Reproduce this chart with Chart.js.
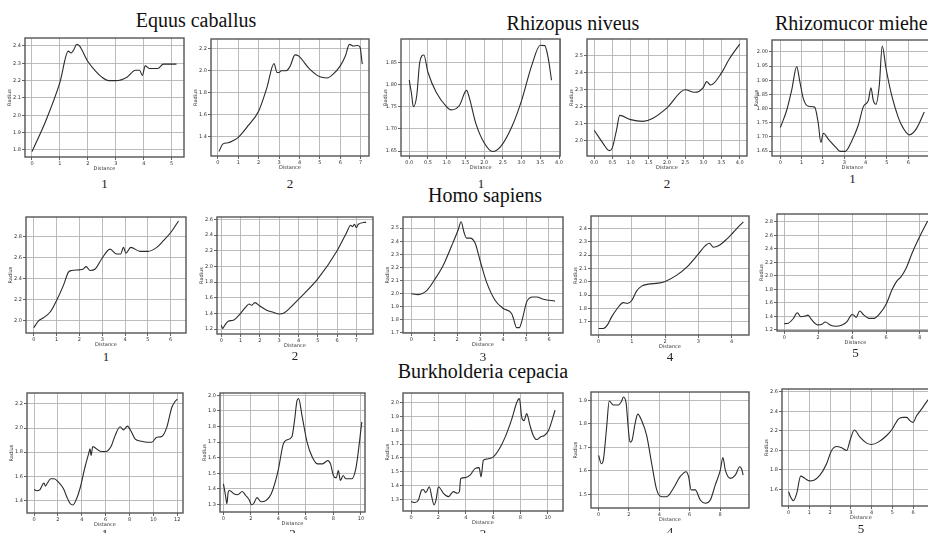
<!DOCTYPE html>
<html>
<head>
<meta charset="utf-8">
<script src="https://cdn.jsdelivr.net/npm/chart.js@4/dist/chart.umd.min.js"></script>
<style>
  body { margin: 0; background: #fff; }
  #wrap { position: relative; width: 928px; height: 533px; overflow: hidden; background: #fff; }
  canvas { position: absolute; }
  .ttl { position: absolute; font-family: "Liberation Serif", serif; font-size: 20px; line-height: 20px; white-space: nowrap; color: #111; }
  .num { position: absolute; font-family: "Liberation Serif", serif; font-size: 13px; line-height: 13px; width: 40px; text-align: center; color: #222; }
</style>
</head>
<body>
<div id="wrap"></div>
<script>
// Equus caballus
const eq1X = [0, 0.5, 1.0, 1.3, 1.4, 1.5, 1.6, 1.7, 2.0, 2.3, 2.5, 2.75, 3.0, 3.4, 3.7, 3.85, 3.95, 4.05, 4.2, 4.5, 4.7, 5.0, 5.17];
const eq1Y = [1.79, 1.97, 2.19, 2.37, 2.36, 2.38, 2.41, 2.40, 2.31, 2.25, 2.22, 2.20, 2.20, 2.22, 2.26, 2.26, 2.23, 2.285, 2.27, 2.27, 2.295, 2.295, 2.295];
const eq1XTicks = ['0', '1', '2', '3', '4', '5'];
const eq1YTicks = ['1.8', '1.9', '2.0', '2.1', '2.2', '2.3', '2.4'];

const eq2X = [0.05, 0.25, 0.5, 0.75, 1.0, 1.5, 2.0, 2.4, 2.75, 2.9, 3.0, 3.1, 3.35, 3.55, 3.78, 3.95, 4.5, 5.0, 5.35, 5.65, 6.0, 6.25, 6.45, 6.65, 6.85, 6.97, 7.08];
const eq2Y = [1.26, 1.33, 1.34, 1.36, 1.39, 1.50, 1.63, 1.84, 2.06, 1.98, 1.98, 1.995, 1.995, 2.04, 2.14, 2.13, 2.01, 1.94, 1.93, 1.965, 2.04, 2.13, 2.235, 2.22, 2.225, 2.21, 2.055];
const eq2XTicks = ['0', '1', '2', '3', '4', '5', '6', '7'];
const eq2YTicks = ['1.4', '1.6', '1.8', '2.0', '2.2'];

// Rhizopus niveus
const rz1X = [0, 0.06, 0.11, 0.2, 0.28, 0.39, 0.5, 0.72, 1.0, 1.12, 1.34, 1.53, 1.6, 1.78, 2.0, 2.23, 2.44, 2.74, 3.0, 3.27, 3.5, 3.62, 3.71, 3.8];
const rz1Y = [1.81, 1.78, 1.75, 1.775, 1.85, 1.867, 1.828, 1.783, 1.75, 1.743, 1.753, 1.787, 1.772, 1.712, 1.669, 1.649, 1.66, 1.705, 1.764, 1.843, 1.889, 1.888, 1.861, 1.81];
const rz1XTicks = ['0.0', '0.5', '1.0', '1.5', '2.0', '2.5', '3.0', '3.5', '4.0'];
const rz1YTicks = ['1.65', '1.70', '1.75', '1.80', '1.85'];

const rz2X = [0, 0.25, 0.41, 0.49, 0.61, 0.7, 1.0, 1.34, 1.6, 2.0, 2.5, 2.75, 2.88, 3.0, 3.09, 3.2, 3.5, 3.7, 4.0];
const rz2Y = [2.06, 1.98, 1.94, 1.953, 2.06, 2.148, 2.123, 2.113, 2.13, 2.193, 2.30, 2.285, 2.29, 2.314, 2.348, 2.328, 2.40, 2.477, 2.57];
const rz2XTicks = ['0.0', '0.5', '1.0', '1.5', '2.0', '2.5', '3.0', '3.5', '4.0'];
const rz2YTicks = ['2.0', '2.1', '2.2', '2.3', '2.4', '2.5'];

// Rhizomucor miehei
const rm1X = [0, 0.3, 0.53, 0.77, 0.92, 1.08, 1.31, 1.61, 1.78, 1.9, 2.02, 2.25, 2.64, 2.8, 3.05, 3.34, 3.66, 3.89, 4.13, 4.25, 4.36, 4.48, 4.64, 4.78, 4.95, 5.22, 5.53, 5.77, 6.05, 6.39, 6.75];
const rm1Y = [1.733, 1.794, 1.864, 1.948, 1.893, 1.835, 1.808, 1.805, 1.748, 1.68, 1.713, 1.692, 1.66, 1.649, 1.649, 1.684, 1.742, 1.806, 1.829, 1.873, 1.829, 1.815, 1.881, 2.021, 1.945, 1.847, 1.769, 1.73, 1.707, 1.73, 1.788];
const rm1XTicks = ['0', '1', '2', '3', '4', '5', '6'];
const rm1YTicks = ['1.65', '1.70', '1.75', '1.80', '1.85', '1.90', '1.95', '2.00'];

// Homo sapiens
const hs1X = [0, 0.2, 0.42, 0.72, 1.0, 1.3, 1.52, 1.66, 2.0, 2.17, 2.29, 2.47, 2.69, 3.0, 3.34, 3.63, 3.81, 3.93, 4.04, 4.25, 4.66, 5.0, 5.39, 5.68, 6.0, 6.34];
const hs1Y = [1.93, 1.994, 2.025, 2.08, 2.19, 2.334, 2.46, 2.476, 2.482, 2.49, 2.513, 2.476, 2.49, 2.595, 2.68, 2.633, 2.633, 2.696, 2.64, 2.696, 2.658, 2.658, 2.696, 2.76, 2.838, 2.948];
const hs1XTicks = ['0', '1', '2', '3', '4', '5', '6'];
const hs1YTicks = ['2.0', '2.2', '2.4', '2.6', '2.8'];

const hs2X = [0, 0.07, 0.19, 0.36, 0.62, 1.0, 1.31, 1.45, 1.57, 1.74, 2.0, 2.35, 2.69, 3.0, 3.25, 3.56, 4.0, 5.0, 6.0, 6.49, 6.7, 6.8, 6.9, 7.0, 7.1, 7.5];
const hs2Y = [1.25, 1.208, 1.25, 1.30, 1.313, 1.40, 1.494, 1.52, 1.503, 1.537, 1.494, 1.44, 1.414, 1.393, 1.406, 1.47, 1.58, 1.84, 2.20, 2.43, 2.524, 2.507, 2.537, 2.495, 2.537, 2.565];
const hs2XTicks = ['0', '1', '2', '3', '4', '5', '6', '7'];
const hs2YTicks = ['1.2', '1.4', '1.6', '1.8', '2.0', '2.2', '2.4', '2.6'];

const hs3X = [0, 0.3, 0.67, 1.0, 1.4, 1.76, 2.05, 2.17, 2.3, 2.41, 2.56, 2.78, 3.0, 3.28, 3.65, 4.01, 4.37, 4.45, 4.59, 4.71, 4.81, 5.03, 5.29, 5.47, 5.76, 6.26];
const hs3Y = [1.997, 1.99, 2.02, 2.10, 2.218, 2.365, 2.49, 2.55, 2.467, 2.424, 2.424, 2.386, 2.25, 2.086, 1.947, 1.883, 1.845, 1.807, 1.736, 1.736, 1.782, 1.934, 1.972, 1.972, 1.954, 1.94];
const hs3XTicks = ['0', '1', '2', '3', '4', '5', '6'];
const hs3YTicks = ['1.7', '1.8', '1.9', '2.0', '2.1', '2.2', '2.3', '2.4', '2.5'];

const hs4X = [0, 0.14, 0.26, 0.39, 0.56, 0.74, 0.86, 1.0, 1.14, 1.29, 1.5, 1.8, 2.0, 2.35, 2.65, 3.0, 3.2, 3.33, 3.45, 3.6, 3.85, 4.0, 4.15, 4.35];
const hs4Y = [1.65, 1.65, 1.675, 1.737, 1.80, 1.844, 1.837, 1.862, 1.93, 1.968, 1.983, 1.99, 2.003, 2.05, 2.11, 2.21, 2.27, 2.29, 2.26, 2.27, 2.32, 2.358, 2.40, 2.45];
const hs4XTicks = ['0', '1', '2', '3', '4'];
const hs4YTicks = ['1.7', '1.8', '1.9', '2.0', '2.1', '2.2', '2.3', '2.4'];

const hs5X = [0, 0.24, 0.53, 0.77, 0.97, 1.23, 1.39, 1.62, 1.98, 2.22, 2.42, 2.71, 3.01, 3.41, 3.7, 4.0, 4.1, 4.24, 4.44, 4.7, 5.0, 5.29, 5.64, 6.02, 6.38, 6.67, 6.87, 7.17, 7.56, 8.06, 8.46];
const hs5Y = [1.294, 1.30, 1.37, 1.455, 1.397, 1.406, 1.42, 1.348, 1.275, 1.284, 1.318, 1.275, 1.255, 1.274, 1.323, 1.43, 1.42, 1.387, 1.48, 1.42, 1.372, 1.372, 1.445, 1.59, 1.812, 1.934, 1.983, 2.106, 2.35, 2.62, 2.815];
const hs5XTicks = ['0', '2', '4', '6', '8'];
const hs5YTicks = ['1.2', '1.4', '1.6', '1.8', '2.0', '2.2', '2.4', '2.6', '2.8'];

// Burkholderia cepacia
const bc1X = [0, 0.22, 0.5, 0.73, 0.84, 0.95, 1.12, 1.4, 1.68, 2.04, 2.46, 2.74, 3.02, 3.24, 3.52, 3.85, 4.27, 4.58, 4.69, 4.78, 4.92, 5.11, 5.53, 6.0, 6.45, 6.79, 7.21, 7.49, 7.82, 8.13, 8.46, 9.02, 9.44, 9.86, 10.28, 10.7, 11.12, 11.54, 11.82, 12.01];
const bc1Y = [1.49, 1.48, 1.49, 1.534, 1.545, 1.518, 1.545, 1.58, 1.58, 1.553, 1.499, 1.43, 1.375, 1.362, 1.403, 1.499, 1.677, 1.79, 1.827, 1.773, 1.847, 1.836, 1.808, 1.805, 1.847, 1.937, 2.011, 1.984, 2.016, 1.973, 1.91, 1.89, 1.882, 1.882, 1.923, 1.93, 2.005, 2.17, 2.22, 2.24];
const bc1XTicks = ['0', '2', '4', '6', '8', '10', '12'];
const bc1YTicks = ['1.4', '1.6', '1.8', '2.0', '2.2'];

const bc2X = [0, 0.15, 0.25, 0.35, 0.45, 0.75, 1.04, 1.37, 1.62, 1.87, 2.04, 2.19, 2.44, 2.74, 3.11, 3.48, 3.98, 4.35, 4.6, 4.98, 5.17, 5.35, 5.47, 5.72, 6.09, 6.47, 6.84, 7.21, 7.59, 7.79, 8.0, 8.21, 8.36, 8.51, 8.71, 8.91, 9.33, 9.65, 10.07];
const bc2Y = [1.432, 1.357, 1.304, 1.379, 1.389, 1.368, 1.362, 1.383, 1.357, 1.33, 1.298, 1.304, 1.343, 1.317, 1.326, 1.368, 1.517, 1.687, 1.713, 1.734, 1.836, 1.964, 1.979, 1.868, 1.698, 1.602, 1.56, 1.56, 1.581, 1.56, 1.485, 1.47, 1.517, 1.453, 1.485, 1.464, 1.464, 1.538, 1.83];
const bc2XTicks = ['0', '2', '4', '6', '8', '10'];
const bc2YTicks = ['1.3', '1.4', '1.5', '1.6', '1.7', '1.8', '1.9', '2.0'];

const bc3X = [0, 0.29, 0.54, 0.78, 0.9, 1.07, 1.34, 1.51, 1.68, 1.83, 2.0, 2.37, 2.73, 3.1, 3.39, 3.54, 3.63, 4.0, 4.32, 4.68, 4.98, 5.12, 5.29, 5.54, 6.0, 6.39, 6.88, 7.37, 7.73, 7.93, 8.1, 8.27, 8.46, 8.71, 8.95, 9.2, 9.49, 9.73, 10.05, 10.54];
const bc3Y = [1.284, 1.277, 1.296, 1.368, 1.372, 1.348, 1.391, 1.32, 1.26, 1.296, 1.391, 1.344, 1.32, 1.356, 1.344, 1.356, 1.451, 1.458, 1.475, 1.523, 1.53, 1.463, 1.582, 1.592, 1.606, 1.654, 1.749, 1.881, 2.0, 2.029, 1.893, 1.869, 1.921, 1.833, 1.761, 1.733, 1.754, 1.761, 1.797, 1.945];
const bc3XTicks = ['0', '2', '4', '6', '8', '10'];
const bc3YTicks = ['1.3', '1.4', '1.5', '1.6', '1.7', '1.8', '1.9', '2.0'];

const bc4X = [0, 0.18, 0.31, 0.53, 0.7, 0.97, 1.3, 1.52, 1.63, 1.81, 1.96, 2.07, 2.2, 2.4, 2.58, 2.84, 3.17, 3.5, 3.83, 4.16, 4.49, 4.93, 5.37, 5.77, 5.93, 6.1, 6.37, 6.7, 7.03, 7.36, 7.69, 8.02, 8.19, 8.35, 8.68, 9.01, 9.3, 9.45, 9.52];
const bc4Y = [1.666, 1.63, 1.645, 1.785, 1.897, 1.88, 1.88, 1.897, 1.914, 1.89, 1.778, 1.722, 1.729, 1.799, 1.841, 1.813, 1.75, 1.63, 1.519, 1.49, 1.49, 1.526, 1.575, 1.596, 1.575, 1.519, 1.519, 1.476, 1.462, 1.476, 1.54, 1.603, 1.656, 1.603, 1.568, 1.582, 1.617, 1.603, 1.582];
const bc4XTicks = ['0', '2', '4', '6', '8'];
const bc4YTicks = ['1.5', '1.6', '1.7', '1.8', '1.9'];

const bc5X = [0, 0.1, 0.23, 0.39, 0.58, 0.79, 1.0, 1.22, 1.51, 1.83, 2.07, 2.32, 2.56, 2.8, 2.96, 3.17, 3.44, 3.76, 4.0, 4.32, 4.73, 5.0, 5.29, 5.53, 5.69, 5.85, 6.0, 6.17, 6.41, 6.66, 6.9];
const bc5Y = [1.576, 1.519, 1.485, 1.559, 1.736, 1.712, 1.688, 1.695, 1.746, 1.864, 2.0, 2.041, 2.027, 2.0, 2.102, 2.21, 2.136, 2.075, 2.061, 2.085, 2.153, 2.22, 2.322, 2.339, 2.339, 2.305, 2.288, 2.356, 2.424, 2.5, 2.56];
const bc5XTicks = ['0', '1', '2', '3', '4', '5', '6'];
const bc5YTicks = ['1.6', '1.8', '2.0', '2.2', '2.4', '2.6'];

const groupTitles = [
  { text: 'Equus caballus', x: 196, y: 10, center: true },
  { text: 'Rhizopus niveus', x: 573, y: 13, center: true },
  { text: 'Rhizomucor miehei', x: 775, y: 13, center: false },
  { text: 'Homo sapiens', x: 485, y: 185, center: true },
  { text: 'Burkholderia cepacia', x: 483, y: 361, center: true }
];

// box = [left, top, right, bottom] of the plot frame, xr / yr = axis limits
const panels = [
  { xs: eq1X, ys: eq1Y, xt: eq1XTicks, yt: eq1YTicks, box: [25, 37, 184, 157], xr: [-0.25, 5.44], yr: [1.759, 2.446], num: '1', numY: 177 },
  { xs: eq2X, ys: eq2Y, xt: eq2XTicks, yt: eq2YTicks, box: [211, 38, 369, 156], xr: [-0.34, 7.41], yr: [1.22, 2.284], num: '2', numY: 177 },
  { xs: rz1X, ys: rz1Y, xt: rz1XTicks, yt: rz1YTicks, box: [401, 38, 561, 156], xr: [-0.22, 4.03], yr: [1.639, 1.903], num: '1', numY: 177 },
  { xs: rz2X, ys: rz2Y, xt: rz2XTicks, yt: rz2YTicks, box: [587, 38, 747, 156], xr: [-0.2, 4.2], yr: [1.908, 2.6], num: '2', numY: 177 },
  { xs: rm1X, ys: rm1Y, xt: rm1XTicks, yt: rm1YTicks, box: [772, 39, 933, 156], xr: [-0.39, 7.16], yr: [1.6325, 2.042], num: '1', numY: 172 },
  { xs: hs1X, ys: hs1Y, xt: hs1XTicks, yt: hs1YTicks, box: [26, 216, 186, 333], xr: [-0.34, 6.67], yr: [1.88, 2.986], num: '1', numY: 350 },
  { xs: hs2X, ys: hs2Y, xt: hs2XTicks, yt: hs2YTicks, box: [217, 216, 373, 334], xr: [-0.22, 7.86], yr: [1.137, 2.63], num: '2', numY: 349 },
  { xs: hs3X, ys: hs3Y, xt: hs3XTicks, yt: hs3YTicks, box: [403, 216, 563, 333], xr: [-0.36, 6.61], yr: [1.695, 2.586], num: '3', numY: 350 },
  { xs: hs4X, ys: hs4Y, xt: hs4XTicks, yt: hs4YTicks, box: [591, 215, 749, 335], xr: [-0.23, 4.52], yr: [1.601, 2.494], num: '4', numY: 350 },
  { xs: hs5X, ys: hs5Y, xt: hs5XTicks, yt: hs5YTicks, box: [777, 213, 934, 331], xr: [-0.43, 8.83], yr: [1.185, 2.917], num: '5', numY: 346 },
  { xs: bc1X, ys: bc1Y, xt: bc1XTicks, yt: bc1YTicks, box: [27, 392, 183, 513], xr: [-0.59, 12.48], yr: [1.296, 2.29], num: '1', numY: 527 },
  { xs: bc2X, ys: bc2Y, xt: bc2XTicks, yt: bc2YTicks, box: [220, 392, 365, 512], xr: [-0.25, 10.3], yr: [1.251, 2.015], num: '2', numY: 527 },
  { xs: bc3X, ys: bc3Y, xt: bc3XTicks, yt: bc3YTicks, box: [403, 392, 563, 511], xr: [-0.59, 11.12], yr: [1.216, 2.07], num: '3', numY: 527 },
  { xs: bc4X, ys: bc4Y, xt: bc4XTicks, yt: bc4YTicks, box: [591, 391, 749, 508], xr: [-0.5, 9.91], yr: [1.442, 1.935], num: '4', numY: 525 },
  { xs: bc5X, ys: bc5Y, xt: bc5XTicks, yt: bc5YTicks, box: [782, 388, 940, 506], xr: [-0.32, 7.3], yr: [1.43, 2.63], num: '5', numY: 522 }
];

const YW = 19, XH = 15, PT = 3, PR = 3;
const FONT = 'DejaVu Sans';
const wrap = document.getElementById('wrap');

// frame round the plot area, like matplotlib spines
const framePlugin = {
  id: 'frame',
  afterDraw(chart) {
    const a = chart.chartArea, c = chart.ctx;
    c.save();
    c.strokeStyle = '#555';
    c.lineWidth = 1.4;
    c.strokeRect(a.left, a.top, a.right - a.left, a.bottom - a.top);
    c.restore();
  }
};

groupTitles.forEach(t => {
  const d = document.createElement('div');
  d.className = 'ttl';
  d.textContent = t.text;
  d.style.top = t.y + 'px';
  d.style.left = t.x + 'px';
  if (t.center) d.style.transform = 'translateX(-50%)';
  wrap.appendChild(d);
});

function axis(title, ticks, range, isX) {
  return {
    type: 'linear',
    min: range[0],
    max: range[1],
    afterBuildTicks: s => { s.ticks = ticks.map(t => ({ value: parseFloat(t) })); },
    afterFit: s => { if (isX) s.height = XH; else s.width = YW; },
    ticks: {
      font: { size: 5, family: FONT },
      color: '#333',
      padding: 1,
      maxRotation: 0,
      autoSkip: false,
      callback: (v, i) => ticks[i]
    },
    grid: { color: '#b4b4b4', lineWidth: 0.9, tickLength: 3, tickColor: '#555' },
    border: { display: false },
    title: { display: true, text: title, color: '#333', font: { size: 5, family: FONT }, padding: { top: 1, bottom: 0 } }
  };
}

panels.forEach(p => {
  const [l, t, r, b] = p.box;
  const cv = document.createElement('canvas');
  const w = (r - l) + YW + PR, h = (b - t) + PT + XH;
  cv.width = w; cv.height = h;
  cv.style.left = (l - YW) + 'px';
  cv.style.top = (t - PT) + 'px';
  cv.style.width = w + 'px';
  cv.style.height = h + 'px';
  wrap.appendChild(cv);

  new Chart(cv, {
    type: 'line',
    data: {
      datasets: [{
        data: p.xs.map((x, i) => ({ x, y: p.ys[i] })),
        borderColor: '#2b2b2b',
        borderWidth: 1.1,
        pointRadius: 0,
        cubicInterpolationMode: 'monotone',
        fill: false
      }]
    },
    options: {
      responsive: false,
      animation: false,
      layout: { padding: { top: PT, right: PR, left: 0, bottom: 0 } },
      plugins: { legend: { display: false }, tooltip: { enabled: false } },
      scales: {
        x: axis('Distance', p.xt, p.xr, true),
        y: axis('Radius', p.yt, p.yr, false)
      }
    },
    plugins: [framePlugin]
  });

  const n = document.createElement('div');
  n.className = 'num';
  n.textContent = p.num;
  n.style.left = ((l + r) / 2 - 20) + 'px';
  n.style.top = p.numY + 'px';
  wrap.appendChild(n);
});
</script>
</body>
</html>
